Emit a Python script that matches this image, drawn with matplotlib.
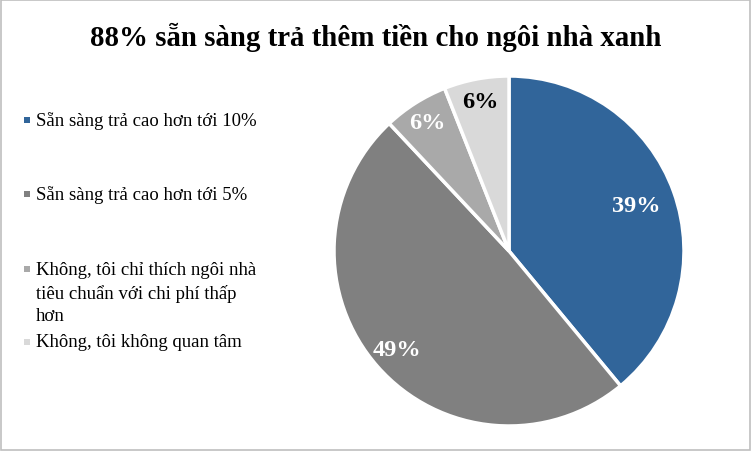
import numpy as np
import matplotlib
matplotlib.use("Agg")
import matplotlib.pyplot as plt
from matplotlib.patches import Rectangle

title = "88% sẵn sàng trả thêm tiền cho ngôi nhà xanh"
labels = ["Sẵn sàng trả cao hơn tới 10%",
          "Sẵn sàng trả cao hơn tới 5%",
          "Không, tôi chỉ thích ngôi nhà\ntiêu chuẩn với chi phí thấp\nhơn",
          "Không, tôi không quan tâm"]
values = [39, 49, 6, 6]
colors = ["#31659A", "#808080", "#A9A9A9", "#D9D9D9"]
text_colors = ["white", "white", "white", "black"]
label_dist = [0.77, 0.85, 0.87, 0.87]

plt.rcParams["font.family"] = ["Liberation Serif", "DejaVu Serif"]

fig = plt.figure(figsize=(7.52, 4.52), dpi=100)
fig.patches.append(Rectangle((0.001, 0.002), 0.997, 0.995, transform=fig.transFigure,
                             fill=False, edgecolor="#BFBFBF", linewidth=1.2))

fig.text(0.5, 1 - 37 / 452, title, ha="center", va="center", fontsize=20.8, fontweight="bold")

ax = fig.add_axes([(509 - 175) / 752, (452 - 252 - 175) / 452, 350 / 752, 350 / 452])
wedges, _ = ax.pie(values, colors=colors, startangle=90, counterclock=False,
                   wedgeprops=dict(edgecolor="white", linewidth=2.5))
ax.set_aspect("equal")
ax.set_xlim(-1, 1)
ax.set_ylim(-1, 1)

for w, v, tc, d in zip(wedges, values, text_colors, label_dist):
    ang = np.deg2rad((w.theta1 + w.theta2) / 2)
    ax.text(d * np.cos(ang), d * np.sin(ang), f"{v}%", ha="center", va="center",
            color=tc, fontsize=17.5, fontweight="bold")

# legend
ys = [121, 195, 270, 343]
for lab, c, y in zip(labels, colors, ys):
    fy = 1 - y / 452
    fig.patches.append(Rectangle((24 / 752, fy - 3 / 452), 6 / 752, 6 / 452,
                                 transform=fig.transFigure, facecolor=c, edgecolor="none"))
    if "\n" in lab:
        fig.text(36 / 752, fy + 8 / 452, lab, ha="left", va="top", fontsize=13.5,
                 linespacing=1.4)
    else:
        fig.text(36 / 752, fy, lab, ha="left", va="center", fontsize=13.5)

fig.savefig("out.png", dpi=100)
